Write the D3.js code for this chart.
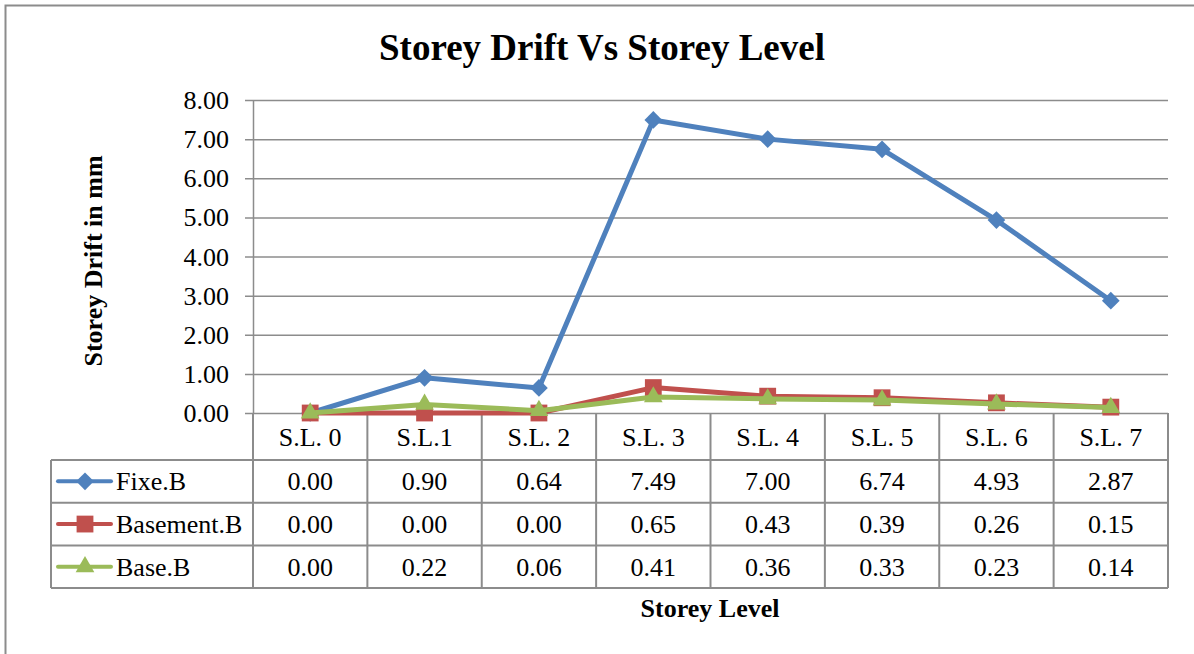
<!DOCTYPE html>
<html>
<head>
<meta charset="utf-8">
<script src="https://cdn.jsdelivr.net/npm/d3@7"></script>
<style>
  body { margin: 0; background: #fff; }
  svg { display: block; }
</style>
</head>
<body>
<script>
const levels = ['S.L. 0', 'S.L.1', 'S.L. 2', 'S.L. 3', 'S.L. 4', 'S.L. 5', 'S.L. 6', 'S.L. 7']
const fixe = [0.00, 0.90, 0.64, 7.49, 7.00, 6.74, 4.93, 2.87]
const basement = [0.00, 0.00, 0.00, 0.65, 0.43, 0.39, 0.26, 0.15]
const base = [0.00, 0.22, 0.06, 0.41, 0.36, 0.33, 0.23, 0.14]
const yTicks = [0, 1, 2, 3, 4, 5, 6, 7, 8]

const series = [
  {name: 'Fixe.B', values: fixe, color: '#4F81BD', symbol: d3.symbolDiamond2, size: 200},
  {name: 'Basement.B', values: basement, color: '#C0504D', symbol: d3.symbolSquare2, size: 360},
  {name: 'Base.B', values: base, color: '#9BBB59', symbol: d3.symbolTriangle2, size: 250},
]

const width = 1194
const height = 654
const margin = {top: 100, right: 26, bottom: 241, left: 253}
const font = "'Liberation Serif', 'Times New Roman', serif"
const grid = '#8c8c8c'
const fs = 26

const svg = d3.select('body').append('svg')
  .attr('width', width)
  .attr('height', height)
  .attr('font-family', font)

// chart frame
svg.append('rect')
  .attr('x', 5.5).attr('y', 5.5)
  .attr('width', width + 10).attr('height', height + 10)
  .attr('fill', 'none').attr('stroke', '#8c8c8c').attr('stroke-width', 2)

const x = d3.scaleBand()
  .domain(levels)
  .range([margin.left, width - margin.right])

const y = d3.scaleLinear()
  .domain([0, 8])
  .range([height - margin.bottom, margin.top])

// gridlines
svg.append('g')
  .selectAll('line')
  .data(yTicks)
  .join('line')
    .attr('x1', margin.left - 8)
    .attr('x2', width - margin.right)
    .attr('y1', d => y(d) + 0.5)
    .attr('y2', d => y(d) + 0.5)
    .attr('stroke', grid).attr('stroke-width', 1.5)

svg.append('line')
  .attr('x1', margin.left + 0.5).attr('x2', margin.left + 0.5)
  .attr('y1', y(8)).attr('y2', y(0))
  .attr('stroke', grid).attr('stroke-width', 1.5)

svg.append('g')
  .selectAll('text')
  .data(yTicks)
  .join('text')
    .attr('x', 229)
    .attr('y', d => y(d) + 9)
    .attr('text-anchor', 'end')
    .attr('font-size', fs)
    .text(d => d.toFixed(2))

// title & axis titles
svg.append('text')
  .attr('x', 602).attr('y', 60)
  .attr('text-anchor', 'middle')
  .attr('font-size', 37).attr('font-weight', 'bold')
  .text('Storey Drift Vs Storey Level')

svg.append('text')
  .attr('transform', 'translate(102, 261) rotate(-90)')
  .attr('text-anchor', 'middle')
  .attr('font-size', fs).attr('font-weight', 'bold')
  .text('Storey Drift in mm')

svg.append('text')
  .attr('x', 710).attr('y', 617)
  .attr('text-anchor', 'middle')
  .attr('font-size', fs).attr('font-weight', 'bold')
  .text('Storey Level')

// data table
const tableTop = y(0)
const headerBottom = 460
const rowH = 42.7
const tableLeft = 51
const tableBottom = headerBottom + rowH * series.length
const table = svg.append('g')
  .attr('stroke', grid).attr('stroke-width', 2).attr('fill', 'none')

const bounds = levels.map(l => x(l)).concat([x.range()[1]])
table.selectAll('line.v')
  .data(bounds)
  .join('line')
    .attr('x1', d => d).attr('x2', d => d)
    .attr('y1', tableTop).attr('y2', tableBottom)

table.append('line')
  .attr('x1', tableLeft).attr('x2', tableLeft)
  .attr('y1', headerBottom).attr('y2', tableBottom)

table.selectAll('line.h')
  .data(d3.range(series.length + 1))
  .join('line')
    .attr('x1', tableLeft).attr('x2', x.range()[1])
    .attr('y1', i => headerBottom + i * rowH)
    .attr('y2', i => headerBottom + i * rowH)

svg.append('g')
  .selectAll('text')
  .data(levels)
  .join('text')
    .attr('x', d => x(d) + x.bandwidth() / 2)
    .attr('y', (tableTop + headerBottom) / 2 + 9)
    .attr('text-anchor', 'middle')
    .attr('font-size', fs)
    .text(d => d)

const rows = svg.append('g')
  .selectAll('g')
  .data(series)
  .join('g')
    .attr('transform', (_, i) => `translate(0, ${headerBottom + i * rowH + rowH / 2})`)

rows.selectAll('text.val')
  .data(s => s.values)
  .join('text')
    .attr('x', (_, i) => x(levels[i]) + x.bandwidth() / 2)
    .attr('y', 9)
    .attr('text-anchor', 'middle')
    .attr('font-size', fs)
    .text(v => v.toFixed(2))

rows.append('line')
  .attr('x1', 58).attr('x2', 111)
  .attr('stroke', s => s.color).attr('stroke-width', 4)
  .attr('stroke-linecap', 'round')

rows.append('path')
  .attr('transform', 'translate(85, 0)')
  .attr('d', s => d3.symbol(s.symbol, s.size)())
  .attr('fill', s => s.color)

rows.append('text')
  .attr('x', 116).attr('y', 9)
  .attr('font-size', fs)
  .text(s => s.name)

// lines and markers
const line = d3.line()
  .x((_, i) => x(levels[i]) + x.bandwidth() / 2)
  .y(v => y(v))

const plot = svg.append('g')
  .selectAll('g')
  .data(series)
  .join('g')

plot.append('path')
  .attr('d', s => line(s.values))
  .attr('fill', 'none')
  .attr('stroke', s => s.color)
  .attr('stroke-width', 5)
  .attr('stroke-linejoin', 'round')

plot.selectAll('path.m')
  .data(s => s.values.map(v => ({v, s})))
  .join('path')
    .attr('transform', (d, i) => `translate(${x(levels[i]) + x.bandwidth() / 2}, ${y(d.v)})`)
    .attr('d', d => d3.symbol(d.s.symbol, d.s.size)())
    .attr('fill', d => d.s.color)
</script>
</body>
</html>
